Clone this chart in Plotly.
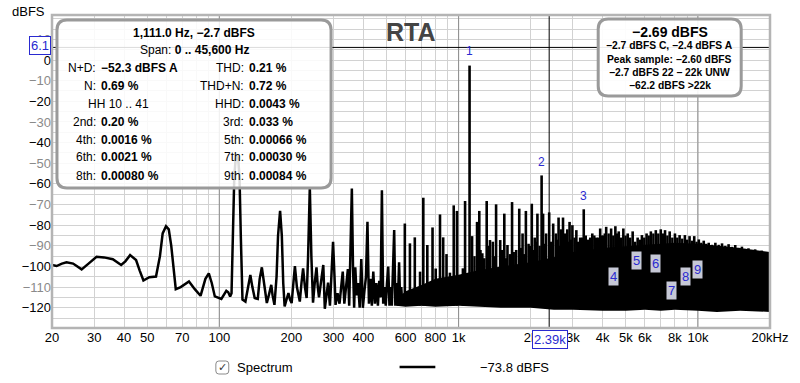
import math
import plotly.graph_objects as go

# ---------------- data ----------------
# low-frequency part of the spectrum trace (Hz, dBFS)
lf_freq = [20, 20.9, 22, 23.0, 24.5, 26.6, 28.5, 30.7, 33, 35.9, 38.9, 40.5, 42.4, 44.9, 46.5, 48.2, 51, 54.4,
           56.5, 58, 59.9, 61.5, 63, 64.5, 65.8, 69, 74.7, 79, 83.5, 87.5, 90.4, 93, 95.8, 102, 105, 107, 109, 111,
           112.5, 114.5, 115.5, 117, 118.5, 120, 121.5, 123, 125, 128.6, 131.5, 134.8, 137.5, 140.6, 144.8, 147.5,
           150.6, 154, 158, 161, 164.9, 167, 170, 173.5, 176, 179.5, 182.5, 185, 187.5, 191, 194.5, 197.5, 200.6,
           204, 207, 211, 217, 220.5, 224, 228, 231.7, 235, 238.9, 242.5, 246.4, 250.5, 254.8, 258, 261, 265, 268,
           272, 276, 280, 284.8, 290, 294, 298.8, 303, 306, 312, 318, 323, 328, 333, 339, 344.6, 349, 352, 358,
           362, 366, 370, 375, 380, 386, 392, 398, 404, 410, 416, 422, 428, 434, 440, 447, 453, 460, 466, 472,
           478, 484, 490, 496, 502, 508, 514, 520, 526, 532, 538, 544, 550, 557, 564, 570, 576, 582]
lf_db = [-99.3, -99.8, -98.6, -98.0, -98.6, -101.4, -98.5, -95.3, -95.6, -96.5, -99.3, -97.5, -94.5, -96.9, -102,
         -106.8, -105.2, -104.9, -95, -84, -80.5, -82, -90, -103, -111, -110, -107.3, -111, -114.2, -106, -103.3,
         -108, -114.5, -115.7, -113, -111.8, -112.5, -114.5, -113, -80, -57, -48, -46.5, -48, -57, -85, -116,
         -117, -110, -104.1, -110, -115.3, -115.7, -106, -100.4, -108, -117.7, -114, -108.9, -114, -118.6, -105,
         -85, -73.1, -85, -108, -119.4, -116, -112.9, -116, -117.7, -108, -99.8, -110, -117, -108, -100.9, -110,
         -115.3, -95, -61.5, -95, -117.5, -108, -100.4, -110, -115, -109, -104, -99.3, -120.5, -115, -107.8,
         -119, -105, -88, -105, -118.6, -113, -118, -110, -102.5, -118, -107, -101.3, -119, -100, -62.3, -100,
         -120, -100.4, -114, -108, -120, -96.4, -120, -112, -105, -78.4, -118, -106, -119, -102.5, -118, -108,
         -119, -107, -115, -63.1, -118, -110, -119, -108, -100, -119, -110, -119, -105, -82.4, -119, -108, -119,
         -98, -118, -110, -119]

# dense noise band above ~550 Hz (lower / upper envelope)
band_freq = [550, 600, 700, 800, 1000, 1200, 1500, 2000, 2500, 3000, 4000, 5000, 6000, 7000, 8000, 10000,
             12000, 15000, 20000]
band_lo = [-119, -119.5, -119, -119.5, -119, -119.5, -120, -120, -121, -121, -121.5, -121.5, -121, -121.5,
           -121, -121.5, -122, -121.5, -122]
band_hi = [-116, -112, -109, -106, -104, -102, -100, -98, -95.5, -93, -91, -90, -89.5, -89, -88.5, -89,
           -90, -91, -93]

# main spectral lines (peaks) above ~590 Hz
spike_freq = [596, 626, 656, 690, 712, 740, 778, 802, 836, 862,
              890, 920, 954, 984, 1042, 1064, 1111, 1138, 1194, 1220,
              1256, 1280, 1310, 1352, 1390, 1434, 1492, 1552, 1600, 1640,
              1672, 1740, 1792, 1850, 1910, 1960, 2022, 2080, 2134, 2222,
              2254, 2320, 2390, 2484, 2550, 2616, 2680, 2730, 2790, 2844,
              2908, 2988, 3104, 3220, 3333, 3470, 3618, 3760, 3904, 4020,
              4136, 4337, 4518, 4667, 4878, 5088, 5336, 5598, 5832, 6100,
              6356, 6666, 6992, 7286, 7618, 8014, 8382, 8818, 9224, 9648,
              10082, 10574, 11092, 11824, 12606, 13428, 14314, 15262, 16256, 17336,
              18476, 19680]
spike_db = [-79.2, -88.8, -85.9, -102.5, -66.7, -89.6, -81.1, -101, -74.8, -85.9,
            -94, -103, -70.4, -73.1, -100.9, -68.3, -2.7, -85.3, -78.4, -73.1,
            -93.6, -96, -68.3, -87.2, -88, -69.9, -87.2, -74.4, -89.6, -94,
            -68.8, -92, -72, -84, -73.1, -89, -69.6, -86, -74.4, -55.9,
            -74.4, -84, -73.8, -79.2, -84, -76.3, -82, -76.3, -84, -82,
            -78.4, -80, -82.4, -86, -72.3, -87, -84, -86, -81.6, -85,
            -80.8, -81.6, -80.5, -83, -81.6, -84, -83, -86, -84.8, -84,
            -83, -82.4, -82, -82.4, -83, -84, -84.8, -84.8, -85.3, -85.3,
            -86.9, -87.5, -88.5, -88.5, -88.8, -89.2, -89.6, -90.4, -91.2, -91.7,
            -92.3, -93.3]

# secondary comb lines between the main lines
comb_freq = [1165, 1235, 1330, 1410, 1520, 1575, 1700, 1820, 1880, 1990,
             2050, 2110, 2180, 2290, 2430, 2580, 2650, 2760, 2870, 2950,
             3050, 3160, 3280, 3400, 3545, 3690, 3830, 3960, 4078, 4235, 4427,
             4592, 4772, 4982, 5210, 5465, 5714, 5965, 6227, 6510, 6827,
             7138, 7450, 7813, 8196, 8597, 9019, 9434, 9863, 10325, 10830,
             11450, 12210, 13010, 13860, 14780, 15750, 16790, 17900, 19070]
comb_db = [-95, -92, -90, -95, -92, -96, -93, -91, -94, -90,
           -92, -88, -90, -89, -88, -87, -90, -86, -88, -87,
           -86, -88, -86, -85, -86, -85, -86, -85, -84, -84, -85,
           -84, -86, -85, -86, -88, -87, -86, -85, -84, -84,
           -84, -85, -86, -86, -86.5, -87, -87.5, -88, -88.5, -89,
           -89.5, -89.5, -90, -90.5, -91, -91.5, -92, -92.5, -93]
spike_floor_db = -119

# harmonic markers
marker_freq = [1111, 2222, 3333, 4444, 5555, 6666, 7777, 8888, 9999]
marker_db = [4.4, -49.4, -65.9, -104.9, -97.2, -98.5, -111.4, -104.9, -101.7]
marker_text = ["1", "2", "3", "4", "5", "6", "7", "8", "9"]

# cursor
cursor_freq = 2390
cursor_db = 6.1
cursor_freq_label = "2.39k"
cursor_db_label = "6.1"
cursor_level_label = "−73.8 dBFS"

# axes
x_range = [20, 20000]
y_range = [-129.8, 21.8]
x_grid = [20, 30, 40, 50, 60, 70, 80, 90, 100, 200, 300, 400, 500, 600, 700, 800, 900,
          1000, 2000, 3000, 4000, 5000, 6000, 7000, 8000, 9000, 10000, 20000]
x_labels = {20: "20", 30: "30", 40: "40", 50: "50", 70: "70", 100: "100", 200: "200", 300: "300",
            400: "400", 600: "600", 800: "800", 1000: "1k", 2000: "2k", 3000: "3k", 4000: "4k",
            5000: "5k", 6000: "6k", 8000: "8k", 10000: "10k", 20000: "20kHz"}
decade_lines = [100, 1000, 10000]
y_grid = list(range(-125, 21, 5))
y_label_max = 10

# info panel text
info_head = ["1,111.0 Hz, −2.7 dBFS", "Span: <b>0 .. 45,600 Hz</b>"]
info_left = [("N+D:", "−52.3 dBFS A"), ("N:", "0.69 %"), (None, "HH 10 .. 41"), ("2nd:", "0.20 %"),
             ("4th:", "0.0016 %"), ("6th:", "0.0021 %"), ("8th:", "0.00080 %")]
info_right = [("THD:", "0.21 %"), ("THD+N:", "0.72 %"), ("HHD:", "0.0043 %"), ("3rd:", "0.033 %"),
              ("5th:", "0.00066 %"), ("7th:", "0.00030 %"), ("9th:", "0.00084 %")]
level_big = "−2.69 dBFS"
level_lines = ["−2.7 dBFS C, −2.4 dBFS A", "Peak sample: −2.60 dBFS", "−2.7 dBFS 22 − 22k UNW",
               "−62.2 dBFS >22k"]

# ---------------- layout helpers (pixel -> paper) ----------------
W, H = 800, 383
PL, PR, PT, PB = 52, 775, 15, 328
FONT = "Liberation Sans"


def X(px):
    return (px - PL) / (PR - PL)


def Y(py):
    return (PB - py) / (PB - PT)


def rrect(x0, y0, x1, y1, r):
    return (f"M {X(x0 + r)},{Y(y0)} L {X(x1 - r)},{Y(y0)} Q {X(x1)},{Y(y0)} {X(x1)},{Y(y0 + r)} "
            f"L {X(x1)},{Y(y1 - r)} Q {X(x1)},{Y(y1)} {X(x1 - r)},{Y(y1)} "
            f"L {X(x0 + r)},{Y(y1)} Q {X(x0)},{Y(y1)} {X(x0)},{Y(y1 - r)} "
            f"L {X(x0)},{Y(y0 + r)} Q {X(x0)},{Y(y0)} {X(x0 + r)},{Y(y0)} Z")


def segs(freqs, dbs, base):
    xs, ys = [], []
    for f, d in zip(freqs, dbs):
        xs += [f, f, None]
        ys += [base, d, None]
    return xs, ys


fig = go.Figure()

# darker decade grid lines
dx, dy = [], []
for f in decade_lines:
    dx += [f, f, None]
    dy += [y_range[0], y_range[1], None]
fig.add_trace(go.Scatter(x=dx, y=dy, mode="lines", line=dict(color="#8c8c8c", width=1),
                         hoverinfo="skip", showlegend=False))

# noise band
fig.add_trace(go.Scatter(x=band_freq, y=band_lo, mode="lines", line=dict(width=0, color="black"),
                         hoverinfo="skip", showlegend=False))
fig.add_trace(go.Scatter(x=band_freq, y=band_hi, mode="lines", line=dict(width=0, color="black"),
                         fill="tonexty", fillcolor="black", hoverinfo="skip", showlegend=False))

# secondary comb lines
cx, cy = segs(comb_freq, comb_db, spike_floor_db)
fig.add_trace(go.Scatter(x=cx, y=cy, mode="lines", line=dict(color="black", width=2.4),
                         hoverinfo="skip", showlegend=False))

# main spectral lines
sx, sy = segs(spike_freq, spike_db, spike_floor_db)
fig.add_trace(go.Scatter(x=sx, y=sy, mode="lines", line=dict(color="black", width=2.6),
                         hoverinfo="skip", showlegend=False))

# low-frequency trace
fig.add_trace(go.Scatter(x=lf_freq, y=lf_db, mode="lines", line=dict(color="black", width=2.5),
                         showlegend=False))

# cursor crosshair
fig.add_trace(go.Scatter(x=[cursor_freq, cursor_freq], y=y_range, mode="lines",
                         line=dict(color="black", width=1), hoverinfo="skip", showlegend=False))
fig.add_trace(go.Scatter(x=x_range, y=[cursor_db, cursor_db], mode="lines",
                         line=dict(color="black", width=1), hoverinfo="skip", showlegend=False))

shapes = []
# plot frame
shapes.append(dict(type="rect", xref="paper", yref="paper", x0=0, x1=1, y0=0, y1=1,
                   line=dict(color="#b4b4b4", width=2.5), layer="above"))
# info boxes
shapes.append(dict(type="path", xref="paper", yref="paper", path=rrect(57, 20, 333, 188, 10),
                   line=dict(color="#9a9a9a", width=3), fillcolor="rgba(255,255,255,0.86)", layer="above"))
shapes.append(dict(type="path", xref="paper", yref="paper", path=rrect(602, 19, 746, 96, 10),
                   line=dict(color="#9a9a9a", width=3), fillcolor="rgba(255,255,255,0.92)", layer="above"))
# legend: checkbox and line sample
shapes.append(dict(type="path", xref="paper", yref="paper", path=rrect(217, 361, 230, 374, 3),
                   line=dict(color="#8a8a8a", width=1), fillcolor="white", layer="above"))
shapes.append(dict(type="line", xref="paper", yref="paper", x0=X(402), x1=X(438), y0=Y(367), y1=Y(367),
                   line=dict(color="black", width=2.5), layer="above"))

ann = []


def txt(px, py, text, size=12, color="black", xanchor="center", bold=False, family=FONT, **kw):
    if bold:
        text = f"<b>{text}</b>"
    ann.append(dict(xref="paper", yref="paper", x=X(px), y=Y(py), text=text, showarrow=False,
                    xanchor=xanchor, yanchor="middle", font=dict(size=size, color=color, family=family), **kw))


# axis unit label and title
txt(28, 12, "dBFS", size=13)
txt(414, 32, "RTA", size=25, color="#444444", bold=True)

# left info panel
txt(195, 32.5, info_head[0], size=12, bold=True)
txt(195, 50.5, info_head[1], size=12)
row_y = [68.3, 86, 104.3, 122.3, 140, 157.3, 175.7]
for ry, (lab, val) in zip(row_y, info_left):
    if lab is None:
        txt(119, ry, val, size=12)
    else:
        txt(98, ry, lab, size=12, xanchor="right")
        txt(99, ry, f"<b>{val}</b>", size=12, xanchor="left")
for ry, (lab, val) in zip(row_y, info_right):
    txt(247, ry, lab, size=12, xanchor="right")
    txt(248, ry, f"<b>{val}</b>", size=12, xanchor="left")

# right level panel
txt(674, 32, level_big, size=14, bold=True)
for ly, line in zip([46, 59, 72.3, 85.3], level_lines):
    txt(674, ly, line, size=10.3, bold=True)

# harmonic markers
for f, d, t in zip(marker_freq, marker_db, marker_text):
    boxed = int(t) >= 4
    ann.append(dict(xref="x", yref="y", x=math.log10(f), y=d, text=t, showarrow=False,
                    font=dict(size=12 if not boxed else 13, color="#2a2ad0", family=FONT),
                    bgcolor="#c6c8d6" if boxed else None, borderpad=1))

# cursor labels
txt(40, 46, cursor_db_label, size=13, color="#2a2ad0", bgcolor="white", bordercolor="#2a2ad0",
    borderwidth=1, borderpad=1)
txt(553, 339.5, cursor_freq_label, size=13, color="#2a2ad0", bgcolor="white", bordercolor="#2a2ad0",
    borderwidth=1, borderpad=1)

# legend texts
txt(223.5, 367.5, "✓", size=11, color="#333333", family="DejaVu Sans")
txt(236, 368, "Spectrum", size=13, xanchor="left")
txt(481, 367, cursor_level_label, size=13, xanchor="left")

# tick texts
x_ticktext = [x_labels.get(v, "") for v in x_grid]
y_ticktext = []
for v in y_grid:
    if v % 10 != 0 or v > y_label_max:
        y_ticktext.append("")
    else:
        s = str(v).replace("-", "−")
        col = "#000000" if (v // 10) % 2 == 0 else "#8a8a8a"
        y_ticktext.append(f'<span style="color:{col}">{s}</span>')

fig.update_layout(
    width=W, height=H, autosize=False,
    margin=dict(l=PL, r=W - PR, t=PT, b=H - PB),
    paper_bgcolor="white", plot_bgcolor="white",
    font=dict(family=FONT, size=13, color="black"),
    shapes=shapes, annotations=ann, showlegend=False,
    xaxis=dict(type="log", range=[math.log10(x_range[0]), math.log10(x_range[1])],
               tickvals=x_grid, ticktext=x_ticktext, ticks="", showgrid=True,
               gridcolor="#d2d2d2", gridwidth=1, zeroline=False, showline=False,
               tickfont=dict(size=13, color="black")),
    yaxis=dict(range=y_range, tickvals=y_grid, ticktext=y_ticktext, ticks="", showgrid=True,
               gridcolor="#d2d2d2", gridwidth=1, zeroline=False, showline=False,
               tickfont=dict(size=13, color="black")),
)

fig.write_html("out.html", config={"displayModeBar": False},
               post_script="document.body.style.margin='0px';")
